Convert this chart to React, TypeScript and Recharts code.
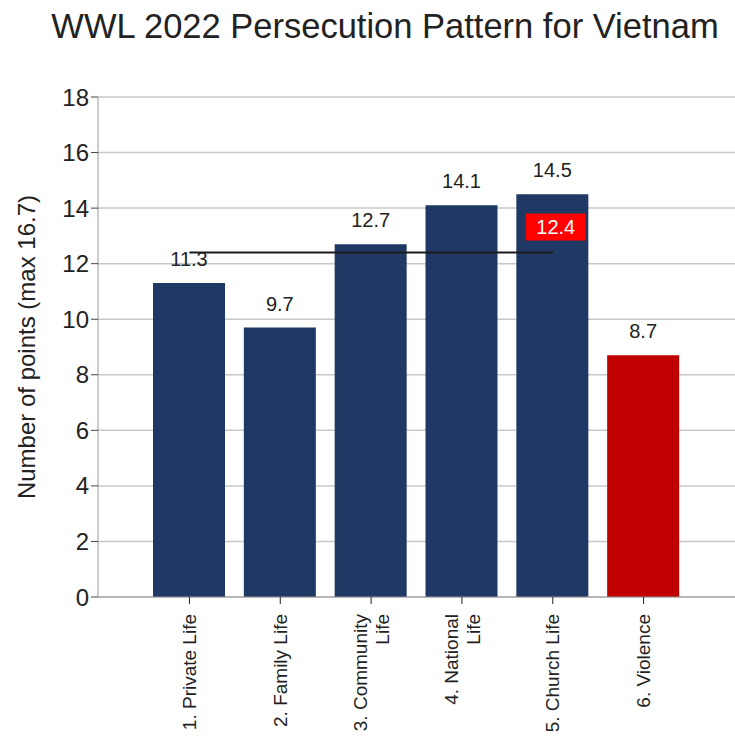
import React from "react"
import { ComposedChart, Bar, Line, XAxis, YAxis, CartesianGrid, LabelList, Cell } from "recharts"

const categories = ["1. Private Life", "2. Family Life", "3. Community Life", "4. National Life", "5. Church Life", "6. Violence"]
const scores = [11.3, 9.7, 12.7, 14.1, 14.5, 8.7]
const average = [12.4, 12.4, 12.4, 12.4, 12.4, null]
const yTicks = [0, 2, 4, 6, 8, 10, 12, 14, 16, 18]

const NAVY = "#203864"
const RED = "#c00000"
const FONT = "'Liberation Sans', Arial, sans-serif"

const data = categories.map((c, i) => ({ name: c, score: scores[i], avg: average[i] }))

// wrap long labels into two lines like the original
const wrap = (s: string) => {
  if (s.length <= 15) return [s]
  const cut = s.lastIndexOf(" ")
  return [s.slice(0, cut), s.slice(cut + 1)]
}

const XTick = (props: any) => {
  const { x, y, payload } = props
  const lines = wrap(payload.value)
  const lh = 22
  const start = -((lines.length - 1) * lh) / 2
  return (
    <g transform={`translate(${x},${y + 8}) rotate(-90)`}>
      <text textAnchor="end" fill="#222" fontSize={19} fontFamily={FONT}>
        {lines.map((l, i) => (
          <tspan key={i} x={0} y={start + i * lh} dy="0.35em">{l}</tspan>
        ))}
      </text>
    </g>
  )
}

const AvgLabel = (props: any) => {
  const { x, y, index, value } = props
  if (index !== 4) return null
  return (
    <g>
      <rect x={x - 27} y={y - 39} width={60} height={27} fill="#ff0000" />
      <text x={x + 3} y={y - 25.5} dy="0.35em" textAnchor="middle" fill="#fff" fontSize={20} fontFamily={FONT}>
        {value}
      </text>
    </g>
  )
}

export default function App() {
  return (
    <div style={{ position: "absolute", left: 0, top: 0, width: 735, height: 742, background: "#fff", fontFamily: FONT }}>
      <div style={{ position: "absolute", top: 7, left: 0, width: 770, textAlign: "center", fontSize: 34.5, color: "#222", whiteSpace: "nowrap" }}>
        WWL 2022 Persecution Pattern for Vietnam
      </div>
      <ComposedChart width={735} height={742} data={data} margin={{ top: 97, right: 0, left: 30, bottom: 0 }}>
        <CartesianGrid vertical={false} stroke="#c8c8c8" strokeWidth={1.5} />
        <XAxis
          dataKey="name"
          interval={0}
          padding={{ left: 46, right: 46 }}
          stroke="#999"
          tickLine={{ stroke: "#222" }}
          tickSize={7}
          tick={<XTick />}
          height={145}
        />
        <YAxis
          domain={[0, 18]}
          ticks={yTicks}
          width={68}
          stroke="#999"
          tickLine={{ stroke: "#444" }}
          tickSize={7}
          tick={{ fill: "#222", fontSize: 24, fontFamily: FONT }}
          label={{
            value: "Number of points (max 16.7)",
            angle: -90,
            position: "insideLeft",
            offset: -4,
            style: { textAnchor: "middle", fill: "#222", fontSize: 24, fontFamily: FONT },
          }}
        />
        <Bar dataKey="score" barSize={72} isAnimationActive={false}>
          {data.map((d, i) => (
            <Cell key={d.name} fill={i === 5 ? RED : NAVY} />
          ))}
          <LabelList dataKey="score" position="top" offset={17} fill="#222" fontSize={20} fontFamily={FONT} />
        </Bar>
        <Line dataKey="avg" stroke="#1a1a1a" strokeWidth={2} dot={false} activeDot={false} isAnimationActive={false}>
          <LabelList dataKey="avg" content={<AvgLabel />} />
        </Line>
      </ComposedChart>
    </div>
  )
}
